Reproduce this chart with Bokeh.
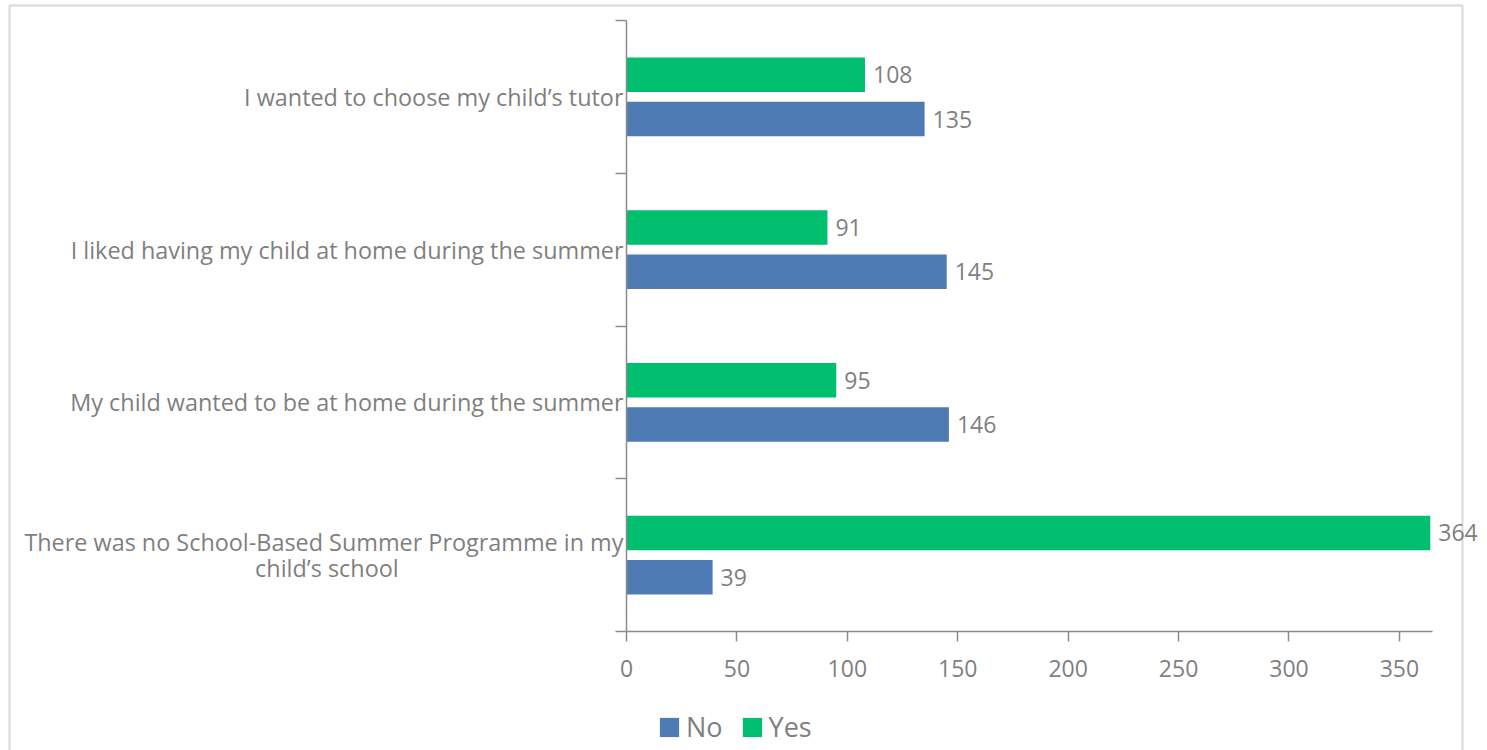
from bokeh.plotting import figure
from bokeh.models import (Range1d, FixedTicker, ColumnDataSource, LabelSet, Legend,
                          LegendItem, BoxAnnotation)
from bokeh.core.properties import value
from bokeh.embed import file_html
from bokeh.resources import INLINE

# ---- data (bottom to top) ----
categories = [
    "There was no School-Based Summer Programme in my\nchild\u2019s school",
    "My child wanted to be at home during the summer",
    "I liked having my child at home during the summer",
    "I wanted to choose my child\u2019s tutor",
]
no_values = [39, 146, 145, 135]
yes_values = [364, 95, 91, 108]
x_ticks = [0, 50, 100, 150, 200, 250, 300, 350]
x_axis_max = 365
series_names = ["No", "Yes"]
series_colors = ["#4f7bb5", "#00bf6f"]

FONT = "Open Sans"
GRAY = "#7f7f7f"
AXIS = "#8c8c8c"

n = len(categories)
centers = [i + 0.5 for i in range(n)]
offset = 0.145
bar_h = 0.226

# layout (pixels): value axis spans 626..1432, category axis 20..631 on a 1487x750 canvas;
# the data frame covers the whole canvas and both axes sit at the origin.
W, H = 1487, 750
AX_L, AX_T, AX_R, AX_B = 626, 20, 1432, 631
px_x = (AX_R - AX_L) / x_axis_max
px_y = (AX_B - AX_T) / n
x_start, x_end = -AX_L / px_x, (W - AX_L) / px_x
y_start, y_end = -(H - AX_B) / px_y, n + AX_T / px_y

# axis labels are right-anchored; pad the wrapped line so it appears centred under the first
WRAP_PAD = "\u00a0" * 37
def axis_label(lab):
    lines = lab.split("\n")
    if len(lines) > 1:
        lines = [lines[0]] + [ln + WRAP_PAD for ln in lines[1:]]
    return "\n".join(lines)

p = figure(width=W, height=H, output_backend="svg", toolbar_location=None,
           x_range=Range1d(x_start, x_end), y_range=Range1d(y_start, y_end),
           min_border_left=0, min_border_right=0, min_border_top=0, min_border_bottom=0)
p.outline_line_color = None
p.xgrid.visible = False
p.ygrid.visible = False

# chart-area border
p.add_layout(BoxAnnotation(left=9, right=1462, top=5, bottom=780,
                           left_units="canvas", right_units="canvas",
                           top_units="canvas", bottom_units="canvas",
                           fill_alpha=0, line_color="#d9d9d9", line_alpha=1.0,
                           line_width=2, level="underlay"))

src_no = ColumnDataSource(dict(y=[c - offset for c in centers], v=no_values,
                               t=[str(v) for v in no_values]))
src_yes = ColumnDataSource(dict(y=[c + offset for c in centers], v=yes_values,
                                t=[str(v) for v in yes_values]))

r_no = p.hbar(y="y", left=0, right="v", height=bar_h, source=src_no,
              fill_color=series_colors[0], line_color=None)
r_yes = p.hbar(y="y", left=0, right="v", height=bar_h, source=src_yes,
               fill_color=series_colors[1], line_color=None)

for src in (src_no, src_yes):
    p.add_layout(LabelSet(x="v", y="y", text="t", source=src, x_offset=8,
                          text_baseline="middle", text_align="left",
                          text_font=value(FONT), text_font_size="23px", text_color=GRAY))

# x axis (sits at y = 0)
xa = p.xaxis[0]
xa.fixed_location = 0
xa.bounds = (0, x_axis_max)
xa.ticker = FixedTicker(ticks=x_ticks)
xa.axis_line_color = AXIS
xa.axis_line_width = 1.5
xa.major_tick_line_color = AXIS
xa.major_tick_line_width = 1.5
xa.major_tick_out = 10
xa.major_tick_in = 0
xa.minor_tick_line_color = None
xa.major_label_standoff = 18
xa.major_label_text_font = FONT
xa.major_label_text_font_size = "23px"
xa.major_label_text_color = GRAY

# y axis (sits at x = 0)
ya = p.yaxis[0]
ya.fixed_location = 0
ya.bounds = (0, n)
ya.ticker = FixedTicker(ticks=centers, minor_ticks=list(range(n + 1)))
ya.major_label_overrides = {c: axis_label(lab) for c, lab in zip(centers, categories)}
ya.axis_line_color = AXIS
ya.axis_line_width = 1.5
ya.major_tick_line_color = None
ya.major_tick_out = 0
ya.major_tick_in = 0
ya.minor_tick_line_color = AXIS
ya.minor_tick_line_width = 1.5
ya.minor_tick_out = 11
ya.minor_tick_in = 0
ya.major_label_standoff = -8
ya.major_label_text_font = FONT
ya.major_label_text_font_size = "23.4px"
ya.major_label_text_color = GRAY
ya.major_label_text_line_height = 0.83

legend = Legend(items=[LegendItem(label=series_names[0], renderers=[r_no]),
                       LegendItem(label=series_names[1], renderers=[r_yes])],
                location=(657, 5), orientation="horizontal",
                border_line_color=None, background_fill_alpha=0,
                glyph_width=24, glyph_height=24, label_standoff=5, spacing=17,
                padding=0, margin=0,
                label_text_font=FONT, label_text_font_size="27px", label_text_color=GRAY)
p.add_layout(legend, "center")

open("out.html", "w").write(file_html(p, INLINE))
